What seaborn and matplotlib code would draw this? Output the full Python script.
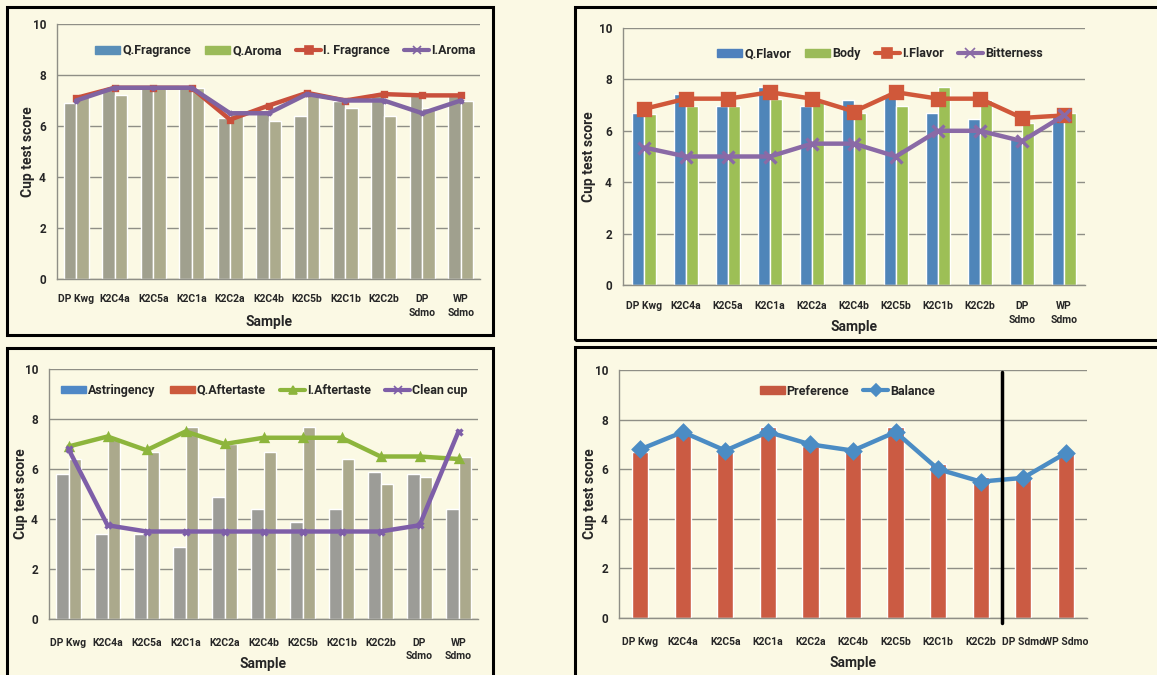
import numpy as np
import pandas as pd
import matplotlib
matplotlib.use("Agg")
import matplotlib.pyplot as plt
from matplotlib.patches import Rectangle, Patch
from matplotlib.lines import Line2D
import seaborn as sns

# ---- data ----
samples = ["DP Kwg", "K2C4a", "K2C5a", "K2C1a", "K2C2a", "K2C4b",
           "K2C5b", "K2C1b", "K2C2b", "DP Sdmo", "WP Sdmo"]
labels_wrap = ["DP Kwg", "K2C4a", "K2C5a", "K2C1a", "K2C2a", "K2C4b",
               "K2C5b", "K2C1b", "K2C2b", "DP\nSdmo", "WP\nSdmo"]

q_fragrance = [6.9, 7.5, 7.5, 7.6, 6.3, 6.5, 6.4, 7.0, 7.3, 7.2, 7.2]
q_aroma = [7.2, 7.2, 7.5, 7.5, 6.6, 6.2, 7.3, 6.7, 6.4, 6.7, 7.0]
i_fragrance = [7.1, 7.5, 7.5, 7.5, 6.25, 6.8, 7.3, 7.0, 7.25, 7.2, 7.2]
i_aroma = [7.0, 7.5, 7.5, 7.5, 6.5, 6.5, 7.25, 7.0, 7.0, 6.5, 7.0]

q_flavor = [6.7, 7.45, 6.95, 7.7, 6.95, 7.2, 7.45, 6.7, 6.45, 5.7, 6.7]
body = [6.65, 6.95, 6.95, 7.25, 7.2, 6.7, 6.95, 7.7, 7.2, 6.3, 6.7]
i_flavor = [6.85, 7.25, 7.25, 7.5, 7.25, 6.75, 7.5, 7.25, 7.25, 6.5, 6.6]
bitterness = [5.35, 5.0, 5.0, 5.0, 5.5, 5.5, 5.0, 6.0, 6.0, 5.6, 6.6]

astringency = [5.8, 3.4, 3.4, 2.9, 4.9, 4.4, 3.9, 4.4, 5.9, 5.8, 4.4]
q_aftertaste = [6.4, 7.2, 6.7, 7.7, 7.0, 6.7, 7.7, 6.4, 5.4, 5.7, 6.5]
i_aftertaste = [6.9, 7.3, 6.75, 7.5, 7.0, 7.25, 7.25, 7.25, 6.5, 6.5, 6.4]
clean_cup = [6.8, 3.75, 3.5, 3.5, 3.5, 3.5, 3.5, 3.5, 3.5, 3.75, 7.5]

preference = [6.7, 7.45, 6.7, 7.7, 6.95, 6.7, 7.7, 6.2, 5.7, 5.65, 6.7]
balance = [6.8, 7.5, 6.75, 7.5, 7.0, 6.75, 7.5, 6.0, 5.5, 5.65, 6.65]

W, H = 1157, 675
BG = "#fbf9e4"
FONT = ["Roboto", "DejaVu Sans"]

sns.set_theme(style="white")
plt.rcParams["font.family"] = FONT
plt.rcParams["font.weight"] = "bold"

fig = plt.figure(figsize=(W / 100, H / 100), dpi=100)
fig.patch.set_facecolor(BG)


def px_axes(x0, y0, x1, y1):
    return fig.add_axes([x0 / W, 1 - y1 / H, (x1 - x0) / W, (y1 - y0) / H])


def px_box(x0, y0, x1, y1):
    fig.patches.append(Rectangle((x0 / W, 1 - y1 / H), (x1 - x0) / W, (y1 - y0) / H,
                                 transform=fig.transFigure, fill=False,
                                 edgecolor="black", lw=2.2, zorder=10))


def panel(ax, bars, bar_colors, width, lines, handles, leg_xy, xlabels,
          ylab_x, xlab_y, tick_pad):
    ax.set_facecolor(BG)
    df = pd.DataFrame(bars, index=samples).rename_axis("sample").reset_index()
    df = df.melt(id_vars="sample", var_name="series", value_name="score")
    sns.barplot(data=df, x="sample", y="score", hue="series", order=samples,
                palette=bar_colors, width=width, saturation=1, gap=0,
                legend=False, ax=ax, zorder=2)
    for vals, color, marker, ms in lines:
        sns.pointplot(x=samples, y=vals, color=color, markers=marker,
                      markersize=ms, linewidth=3.2, errorbar=None, ax=ax)
    for ln in ax.lines:
        ln.set_zorder(4)

    ax.set_ylim(0, 10)
    ax.set_xlim(-0.5, len(samples) - 0.5)
    ax.set_yticks(range(0, 11, 2))
    ax.yaxis.grid(True, color="#8f8f86", lw=1)
    ax.set_axisbelow(True)
    ax.set_xticks(range(len(samples)))
    ax.set_xticklabels(xlabels, fontsize=7.5, fontweight="bold", linespacing=1.45)
    ax.set_xticks(np.arange(-0.5, len(samples), 1), minor=True)
    ax.tick_params(axis="x", which="major", length=0, pad=tick_pad)
    ax.tick_params(axis="x", which="minor", length=5, color="#8f8f86", width=1, direction="out")
    ax.tick_params(axis="y", length=4, color="#8f8f86", width=1, pad=4, labelsize=8.5)
    for lab in ax.get_yticklabels():
        lab.set_fontweight("bold")
    for s in ["top", "right"]:
        ax.spines[s].set_visible(False)
    for s in ["left", "bottom"]:
        ax.spines[s].set_color("#8f8f86")
        ax.spines[s].set_linewidth(1)
    ax.set_xlabel("Sample", fontsize=10, fontweight="bold")
    ax.set_ylabel("Cup test score", fontsize=10, fontweight="bold")
    ax.xaxis.set_label_coords(0.5, xlab_y)
    ax.yaxis.set_label_coords(ylab_x, 0.5)
    ax.legend(handles=handles, loc="center", bbox_to_anchor=leg_xy,
              ncol=len(handles), frameon=False,
              handlelength=2.0, handleheight=0.55, handletextpad=0.15,
              columnspacing=1.15, prop={"weight": "bold", "size": 9})


def line_h(label, color, marker, ms):
    return Line2D([], [], color=color, lw=3, marker=marker, markersize=ms,
                  markeredgewidth=1.2, label=label)


# panel 1
ax1 = px_axes(57, 24, 480, 279)
panel(ax1,
      {"Q.Fragrance": q_fragrance, "Q.Aroma": q_aroma},
      ["#a0a08e", "#acab8d"], 0.65,
      [(i_fragrance, "#c9503c", "s", 3), (i_aroma, "#8064a2", "x", 3)],
      [Patch(color="#5a8fb8", label="Q.Fragrance"),
       Patch(color="#9bbb59", label="Q.Aroma"),
       line_h("I. Fragrance", "#c9503c", "s", 6),
       line_h("I.Aroma", "#8064a2", "x", 6)],
      (0.54, 0.895), labels_wrap, -0.052, -0.141, 11)

# panel 2
ax2 = px_axes(623, 28, 1085, 285)
panel(ax2,
      {"Q.Flavor": q_flavor, "Body": body},
      ["#4f85b9", "#9dbf56"], 0.56,
      [(i_flavor, "#d0583a", "s", 8), (bitterness, "#8a6aa6", "x", 8)],
      [Patch(color="#4f81bd", label="Q.Flavor"),
       Patch(color="#9bbb59", label="Body"),
       line_h("I.Flavor", "#d0583a", "s", 7),
       line_h("Bitterness", "#8a6aa6", "x", 7)],
      (0.556, 0.90), labels_wrap, -0.058, -0.136, 11.5)

# panel 3
ax3 = px_axes(49, 369, 478, 619)
panel(ax3,
      {"Astringency": astringency, "Q.Aftertaste": q_aftertaste},
      ["#9c9c97", "#aba98c"], 0.64,
      [(i_aftertaste, "#8db53c", "^", 5), (clean_cup, "#7e5ea8", "x", 5)],
      [Patch(color="#4f88c6", label="Astringency"),
       Patch(color="#cc5a3c", label="Q.Aftertaste"),
       line_h("I.Aftertaste", "#8db53c", "^", 6),
       line_h("Clean cup", "#7e5ea8", "x", 6)],
      (0.502, 0.915), labels_wrap, -0.05, -0.152, 13.5)

# panel 4
ax4 = px_axes(619, 370, 1087, 618)
panel(ax4,
      {"Preference": preference},
      ["#cb5b43"], 0.38,
      [(balance, "#4b8cc4", "D", 7)],
      [Patch(color="#c55840", label="Preference"),
       line_h("Balance", "#4b8cc4", "D", 6)],
      (0.488, 0.915), samples, -0.048, -0.153, 14)
ax4.axvline(8.5, ymin=-0.02, ymax=0.99, color="black", lw=2.5, zorder=6, clip_on=False)

# panel frames
px_box(7, 7, 493, 335)
px_box(575, 7, 1162, 340)
px_box(7, 348, 493, 682)
px_box(575, 347, 1162, 682)

fig.savefig("out.png", dpi=100, facecolor=BG)
